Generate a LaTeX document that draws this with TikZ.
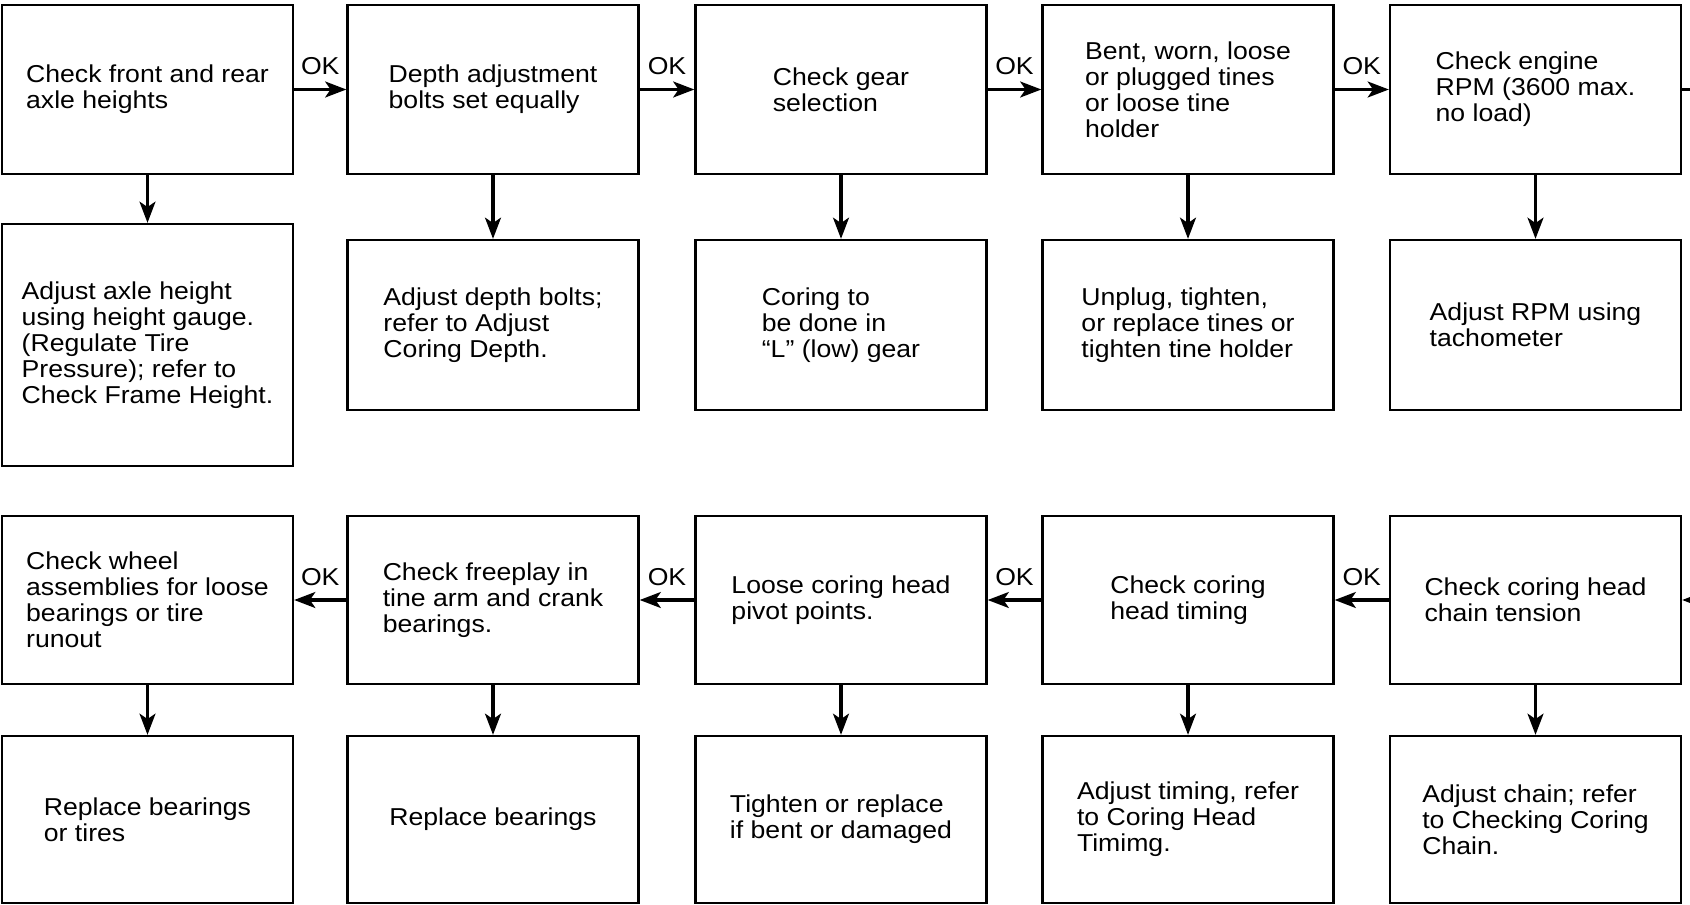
\documentclass[tikz,border=0pt]{standalone}
\usepackage{fontspec}
\setmainfont{Liberation Sans}[FakeStretch=1.09]
\usetikzlibrary{arrows.meta}

\begin{document}
\begin{tikzpicture}[>={Stealth[length=12pt,width=9pt,inset=3pt]},
  box/.style={draw, line width=1.3pt, minimum width=5.82cm, minimum height=3.38cm,
    align=left, font=\fontsize{13.9}{14.8}\selectfont},
  tall/.style={box, minimum height=4.84cm},
  link/.style={->, line width=2pt},
  ok/.style={above=4pt, font=\fontsize{13.9}{14.8}\selectfont}]
  \useasboundingbox (0,0) rectangle (33.8,-18.1);
  % first row: checks
  \node[box] (chk1) at (2.95,-1.79) {Check front and rear\\axle heights};
  \node[box] (chk2) at (9.86,-1.79) {Depth adjustment\\bolts set equally};
  \node[box] (chk3) at (16.82,-1.79) {Check gear\\selection};
  \node[box] (chk4) at (23.76,-1.79) {Bent, worn, loose\\or plugged tines\\or loose tine\\holder};
  \node[box] (chk5) at (30.71,-1.79) {Check engine\\RPM (3600 max.\\no load)};
  % first row: fixes
  \node[tall] (fix1) at (2.95,-6.9) {Adjust axle height\\using height gauge.\\(Regulate Tire\\Pressure); refer to\\Check Frame Height.};
  \node[box, minimum height=3.4cm] (fix2) at (9.86,-6.5) {Adjust depth bolts;\\refer to Adjust\\Coring Depth.};
  \node[box, minimum height=3.4cm] (fix3) at (16.82,-6.5) {Coring to\\be done in\\``L'' (low) gear};
  \node[box, minimum height=3.4cm] (fix4) at (23.76,-6.5) {Unplug, tighten,\\or replace tines or\\tighten tine holder};
  \node[box, minimum height=3.4cm] (fix5) at (30.71,-6.5) {Adjust RPM using\\tachometer};
  % second row: checks
  \node[box, minimum height=3.36cm] (chk6) at (2.95,-12.0) {Check wheel\\assemblies for loose\\bearings or tire\\runout};
  \node[box, minimum height=3.36cm] (chk7) at (9.86,-12.0) {Check freeplay in\\tine arm and crank\\bearings.};
  \node[box, minimum height=3.36cm] (chk8) at (16.82,-12.0) {Loose coring head\\pivot points.};
  \node[box, minimum height=3.36cm] (chk9) at (23.76,-12.0) {Check coring\\head timing};
  \node[box, minimum height=3.36cm] (chk10) at (30.71,-12.0) {Check coring head\\chain tension};
  % second row: fixes
  \node[box, minimum height=3.34cm] (fix6) at (2.95,-16.39) {Replace bearings\\or tires};
  \node[box, minimum height=3.34cm] (fix7) at (9.86,-16.39) {Replace bearings};
  \node[box, minimum height=3.34cm] (fix8) at (16.82,-16.39) {Tighten or replace\\if bent or damaged};
  \node[box, minimum height=3.34cm] (fix9) at (23.76,-16.39) {Adjust timing, refer\\to Coring Head\\Timimg.};
  \node[box, minimum height=3.34cm] (fix10) at (30.71,-16.39) {Adjust chain; refer\\to Checking Coring\\Chain.};
  % ends running off the page
  \coordinate (outtop) at (33.8,-1.79);
  \coordinate (inbot) at (33.8,-12.0);
  % connectors
  \draw[link] (chk1) -- node[ok] {OK} (chk2);
  \draw[link] (chk2) -- node[ok] {OK} (chk3);
  \draw[link] (chk3) -- node[ok] {OK} (chk4);
  \draw[link] (chk4) -- node[ok] {OK} (chk5);
  \draw[line width=2pt] (chk5) -- (outtop);
  \draw[link] (inbot) -- (chk10);
  \draw[link] (chk10) -- node[ok] {OK} (chk9);
  \draw[link] (chk9) -- node[ok] {OK} (chk8);
  \draw[link] (chk8) -- node[ok] {OK} (chk7);
  \draw[link] (chk7) -- node[ok] {OK} (chk6);
  \draw[link] (chk1) -- (fix1);
  \draw[link] (chk2) -- (fix2);
  \draw[link] (chk3) -- (fix3);
  \draw[link] (chk4) -- (fix4);
  \draw[link] (chk5) -- (fix5);
  \draw[link] (chk6) -- (fix6);
  \draw[link] (chk7) -- (fix7);
  \draw[link] (chk8) -- (fix8);
  \draw[link] (chk9) -- (fix9);
  \draw[link] (chk10) -- (fix10);
\end{tikzpicture}
\end{document}
